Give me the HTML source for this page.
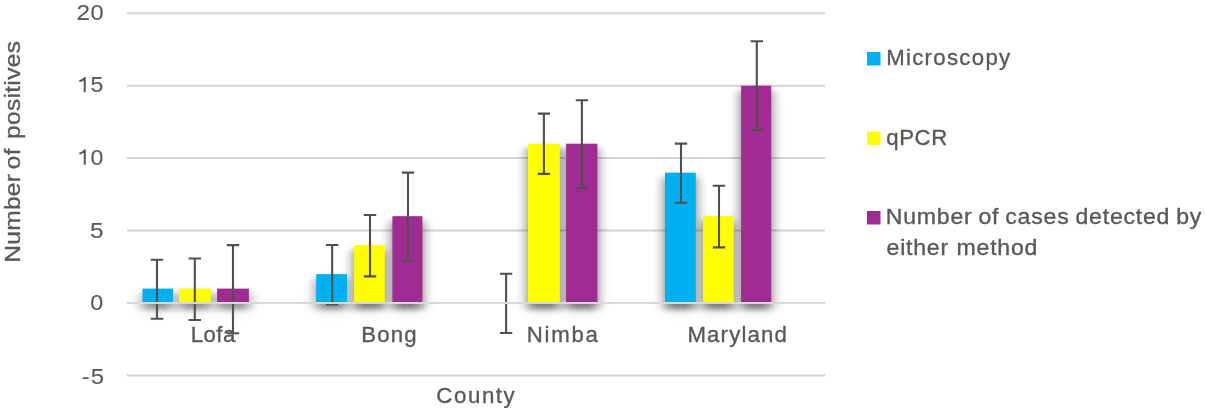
<!DOCTYPE html>
<html><head><meta charset="utf-8"><style>
html,body{margin:0;padding:0;background:#fff;width:1206px;height:408px;overflow:hidden}
svg{display:block;will-change:transform}
text{font-family:"Liberation Sans",sans-serif;fill:#595959;stroke:#595959;stroke-width:0.35px}
text.d{stroke-width:0.1px}
</style></head><body>
<svg width="1206" height="408" viewBox="0 0 1206 408">
<defs><filter id="sh" filterUnits="userSpaceOnUse" x="0" y="0" width="1206" height="408" color-interpolation-filters="sRGB">
<feGaussianBlur in="SourceAlpha" stdDeviation="6.0 2.5"/>
</filter><filter id="sh2" filterUnits="userSpaceOnUse" x="0" y="0" width="1206" height="408" color-interpolation-filters="sRGB">
<feGaussianBlur in="SourceAlpha" stdDeviation="8.0 7.0"/>
</filter></defs>
<g stroke="#d4d4d4" stroke-width="2"><line x1="127" x2="825" y1="13.20" y2="13.20"/><line x1="127" x2="825" y1="85.65" y2="85.65"/><line x1="127" x2="825" y1="158.10" y2="158.10"/><line x1="127" x2="825" y1="230.55" y2="230.55"/><line x1="127" x2="825" y1="303.00" y2="303.00"/><line x1="127" x2="825" y1="375.45" y2="375.45"/></g>
<g opacity="0.15"><rect x="142.50" y="295.51" width="30.50" height="14.49" filter="url(#sh2)"/><rect x="179.00" y="295.51" width="31.80" height="14.49" filter="url(#sh2)"/><rect x="217.10" y="295.51" width="31.80" height="14.49" filter="url(#sh2)"/><rect x="316.20" y="281.02" width="30.80" height="28.98" filter="url(#sh2)"/><rect x="354.10" y="252.04" width="30.70" height="57.96" filter="url(#sh2)"/><rect x="392.40" y="223.06" width="30.00" height="86.94" filter="url(#sh2)"/><rect x="528.00" y="150.61" width="31.80" height="159.39" filter="url(#sh2)"/><rect x="566.10" y="150.61" width="31.30" height="159.39" filter="url(#sh2)"/><rect x="665.00" y="179.59" width="30.80" height="130.41" filter="url(#sh2)"/><rect x="703.00" y="223.06" width="30.80" height="86.94" filter="url(#sh2)"/><rect x="741.10" y="92.65" width="30.10" height="217.35" filter="url(#sh2)"/></g>
<g opacity="0.44"><rect x="142.50" y="293.11" width="30.50" height="16.39" filter="url(#sh)" opacity="0.79"/><rect x="179.00" y="293.11" width="31.80" height="16.39" filter="url(#sh)" opacity="0.79"/><rect x="217.10" y="293.11" width="31.80" height="16.39" filter="url(#sh)" opacity="0.79"/><rect x="316.20" y="278.62" width="30.80" height="30.88" filter="url(#sh)" opacity="0.86"/><rect x="354.10" y="249.64" width="30.70" height="59.86" filter="url(#sh)" opacity="0.99"/><rect x="392.40" y="220.66" width="30.00" height="88.84" filter="url(#sh)"/><rect x="528.00" y="148.21" width="31.80" height="161.29" filter="url(#sh)"/><rect x="566.10" y="148.21" width="31.30" height="161.29" filter="url(#sh)"/><rect x="665.00" y="177.19" width="30.80" height="132.31" filter="url(#sh)"/><rect x="703.00" y="220.66" width="30.80" height="88.84" filter="url(#sh)"/><rect x="741.10" y="90.25" width="30.10" height="219.25" filter="url(#sh)"/></g>
<g><rect x="142.5" y="288.61" width="30.50" height="14.39" fill="#00B0F0"/><rect x="179.0" y="288.61" width="31.80" height="14.39" fill="#FFFF00"/><rect x="217.1" y="288.61" width="31.80" height="14.39" fill="#A02B93"/><rect x="316.2" y="274.12" width="30.80" height="28.88" fill="#00B0F0"/><rect x="354.1" y="245.14" width="30.70" height="57.86" fill="#FFFF00"/><rect x="392.4" y="216.16" width="30.00" height="86.84" fill="#A02B93"/><rect x="528.0" y="143.71" width="31.80" height="159.29" fill="#FFFF00"/><rect x="566.1" y="143.71" width="31.30" height="159.29" fill="#A02B93"/><rect x="665.0" y="172.69" width="30.80" height="130.31" fill="#00B0F0"/><rect x="703.0" y="216.16" width="30.80" height="86.84" fill="#FFFF00"/><rect x="741.1" y="85.75" width="30.10" height="217.25" fill="#A02B93"/></g>
<g stroke="#505050" stroke-width="2.1" fill="none"><path d="M157.0 259.7V318.7M150.80 259.7h12.4M150.80 318.7h12.4"/><path d="M194.8 258.5V320.0M188.60 258.5h12.4M188.60 320.0h12.4"/><path d="M233.0 245.1V333.2M226.80 245.1h12.4M226.80 333.2h12.4"/><path d="M332.15 245.0V304.5M325.95 245.0h12.4M325.95 304.5h12.4"/><path d="M370.0 215.0V276.4M363.80 215.0h12.4M363.80 276.4h12.4"/><path d="M408.0 172.65V260.7M401.80 172.65h12.4M401.80 260.7h12.4"/><path d="M506.1 273.8V333.0M499.90 273.8h12.4M499.90 333.0h12.4"/><path d="M543.9 113.6V173.9M537.70 113.6h12.4M537.70 173.9h12.4"/><path d="M581.9 100.3V188.3M575.70 100.3h12.4M575.70 188.3h12.4"/><path d="M681.0 143.6V202.8M674.80 143.6h12.4M674.80 202.8h12.4"/><path d="M719.0 185.8V247.4M712.80 185.8h12.4M712.80 247.4h12.4"/><path d="M756.8 41.2V129.9M750.60 41.2h12.4M750.60 129.9h12.4"/></g>
<line x1="127" x2="825" y1="303.0" y2="303.0" stroke="#d9d9d9" stroke-width="2"/>
<g><text transform="translate(886.15,65.40) scale(1.0000,1)" font-size="22.2" style="letter-spacing:1.311px;word-spacing:0.000px">Microscopy</text>
<text transform="translate(886.30,144.70) scale(1.0000,1)" font-size="22.2" style="letter-spacing:0.567px;word-spacing:0.000px">qPCR</text>
<text transform="translate(885.78,224.10) scale(1.0400,1)" font-size="22.2" style="letter-spacing:0.750px;word-spacing:-1.130px">Number of cases detected by</text>
<text transform="translate(886.56,255.20) scale(1.0400,1)" font-size="22.2" style="letter-spacing:0.750px;word-spacing:0.442px">either method</text>
<text transform="translate(190.65,342.00) scale(1.0000,1)" font-size="22.2" style="letter-spacing:0.467px;word-spacing:0.000px">Lofa</text>
<text transform="translate(361.15,341.80) scale(1.0000,1)" font-size="22.2" style="letter-spacing:1.183px;word-spacing:0.000px">Bong</text>
<text transform="translate(526.75,342.00) scale(1.0000,1)" font-size="22.2" style="letter-spacing:1.762px;word-spacing:0.000px">Nimba</text>
<text transform="translate(687.45,342.00) scale(1.0000,1)" font-size="22.2" style="letter-spacing:1.157px;word-spacing:0.000px">Maryland</text>
<text transform="translate(436.35,403.20) scale(1.0000,1)" font-size="22.3" style="letter-spacing:1.550px;word-spacing:0.000px">County</text>
<text class="d" transform="translate(76.45,19.90) scale(1.0829,1)" font-size="22.5" style="letter-spacing:0.000px;word-spacing:0.000px">2</text>
<text class="d" transform="translate(90.55,19.90) scale(1.0476,1)" font-size="22.5" style="letter-spacing:0.000px;word-spacing:0.000px">0</text>
<text class="d" transform="translate(90.57,92.40) scale(1.0286,1)" font-size="22.5" style="letter-spacing:0.000px;word-spacing:0.000px">5</text>
<text class="d" transform="translate(90.57,164.90) scale(1.0286,1)" font-size="22.5" style="letter-spacing:0.000px;word-spacing:0.000px">0</text>
<text class="d" transform="translate(90.01,237.60) scale(1.0857,1)" font-size="22.5" style="letter-spacing:0.000px;word-spacing:0.000px">5</text>
<text class="d" transform="translate(90.36,309.90) scale(1.0381,1)" font-size="22.5" style="letter-spacing:0.000px;word-spacing:0.000px">0</text>
<text class="d" transform="translate(81.84,383.75) scale(1.0600,1)" font-size="22.5" style="letter-spacing:0.962px;word-spacing:0.000px">-5</text>
<text transform="translate(20.30,262.81) rotate(-90) scale(1.09,1)" font-size="22.5" xml:space="preserve" style="letter-spacing:0.300px;word-spacing:-2.397px">Number of  positives</text>
</g>
<g stroke="#595959" stroke-width="2.05" fill="none"><path d="M84.75 77.00V92.30M84.9 77.60C83.6 79.60 81.6 80.60 79.4 81.20"/><path d="M84.75 149.50V164.80M84.9 150.10C83.6 152.10 81.6 153.10 79.4 153.70"/></g>
<rect x="867" y="52" width="13.5" height="13.5" fill="#00B0F0"/>
<rect x="867" y="131.5" width="13.5" height="13.5" fill="#FFFF00"/>
<rect x="867" y="211" width="13.5" height="13.5" fill="#A02B93"/>
</svg>
</body></html>
